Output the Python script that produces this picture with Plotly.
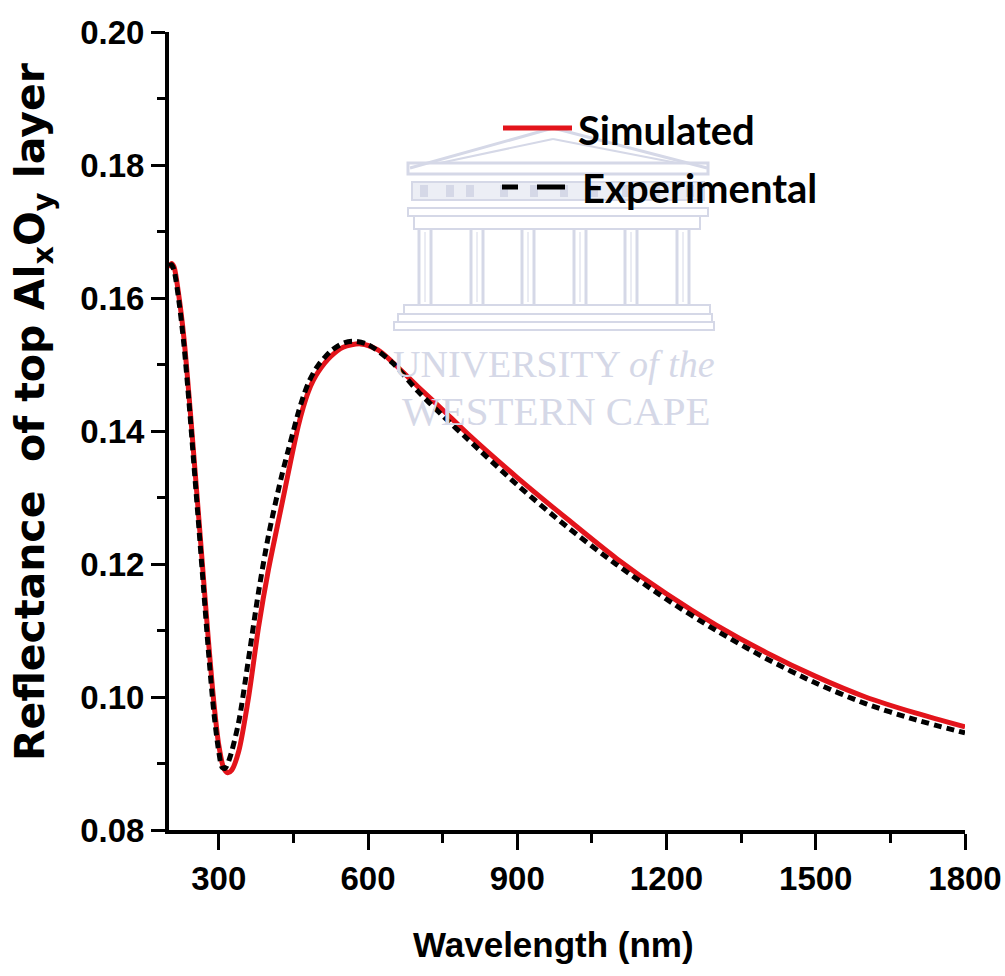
import plotly.graph_objects as go

# Simulated reflectance of the top AlxOy layer
wavelength_sim = [200, 205, 210, 220, 230, 240, 250, 260, 270, 280, 290, 300, 310, 318, 326,
                  340, 360, 380, 400, 425, 440, 450, 460, 470, 480, 490, 500, 525, 550, 585,
                  620, 650, 700, 750, 800, 900, 1000, 1100, 1200, 1300, 1400, 1500, 1600,
                  1700, 1800]
reflect_sim = [0.1645, 0.1652, 0.1647, 0.1602, 0.1540, 0.1455, 0.1362, 0.1268, 0.1172, 0.1078,
               0.0993, 0.0928, 0.0893, 0.0886, 0.0890, 0.0918, 0.1000, 0.1105, 0.1192, 0.1283,
               0.1338, 0.1374, 0.1408, 0.1436, 0.1459, 0.1476, 0.1489, 0.1512, 0.1526, 0.1531,
               0.1522, 0.1503, 0.1467, 0.1432, 0.1396, 0.1330, 0.1268, 0.1208, 0.1155, 0.1108,
               0.1067, 0.1031, 0.1000, 0.0976, 0.0955]

# Measured reflectance
wavelength_exp = [200, 205, 210, 220, 230, 240, 250, 260, 270, 280, 290, 300, 307, 313, 322,
                  340, 360, 380, 400, 425, 440, 450, 460, 470, 480, 490, 500, 525, 550, 570,
                  600, 650, 700, 750, 800, 900, 1000, 1100, 1200, 1300, 1400, 1500, 1600,
                  1700, 1800]
reflect_exp = [0.1648, 0.1650, 0.1642, 0.1595, 0.1530, 0.1445, 0.1350, 0.1255, 0.1158, 0.1062,
               0.0978, 0.0918, 0.0894, 0.0893, 0.0908, 0.0962, 0.1058, 0.1158, 0.1243, 0.1328,
               0.1372, 0.1400, 0.1428, 0.1452, 0.1472, 0.1487, 0.1499, 0.1520, 0.1532, 0.1535,
               0.1530, 0.1502, 0.1460, 0.1423, 0.1388, 0.1319, 0.1256, 0.1199, 0.1147, 0.1100,
               0.1058, 0.1021, 0.0990, 0.0966, 0.0946]

x_ticks = [300, 600, 900, 1200, 1500, 1800]
series_names = ["Simulated", "Experimental"]

W, H = 1005, 976
L, R, T, B = 169, 40, 32, 146
PW, PH = W - L - R, H - T - B

RED = "#e3141b"
WM = "#d5d8e7"


def px(x):
    return (x - L) / PW


def py(y):
    return (T + PH - y) / PH


fig = go.Figure()
fig.add_trace(go.Scatter(x=wavelength_sim, y=reflect_sim, mode="lines", name=series_names[0],
                         line=dict(color=RED, width=5, shape="spline", smoothing=0.8)))
fig.add_trace(go.Scatter(x=wavelength_exp, y=reflect_exp, mode="lines", name=series_names[1],
                         line=dict(color="black", width=5, dash="8px,5px", shape="spline",
                                   smoothing=0.8)))

shapes = []
annotations = []


def line(x0, y0, x1, y1, color=WM, width=3, layer="below"):
    shapes.append(dict(type="line", xref="paper", yref="paper", x0=px(x0), y0=py(y0),
                       x1=px(x1), y1=py(y1), line=dict(color=color, width=width), layer=layer))


def rect(x0, y0, x1, y1, fill=None, color=WM, width=3):
    shapes.append(dict(type="rect", xref="paper", yref="paper", x0=px(x0), y0=py(y0),
                       x1=px(x1), y1=py(y1), line=dict(color=color, width=width),
                       fillcolor=fill if fill else "rgba(0,0,0,0)", layer="below"))


def label(text, x, y, size, family, xanchor="center", yanchor="middle", angle=0,
          color="black", weight="bold"):
    annotations.append(dict(text=text, xref="paper", yref="paper", x=px(x), y=py(y),
                            xanchor=xanchor, yanchor=yanchor, textangle=angle,
                            showarrow=False,
                            font=dict(family=family, size=size, color=color, weight=weight)))


# faint building emblem behind the curves
line(410, 168, 553, 128)
line(553, 128, 707, 168)
line(440, 163, 553, 139, width=2)
line(553, 139, 677, 163, width=2)
rect(408, 163, 708, 174)
rect(412, 182, 704, 200, fill="#eceef5", width=2)
for sx in [420, 446, 466, 500, 530, 560, 590, 622, 652, 686]:
    rect(sx, 185, sx + 8, 197, fill=WM, width=0)
rect(408, 208, 708, 216, width=2)
rect(414, 216, 700, 229, width=2)
for cx in [425, 477, 528, 580, 631, 683]:
    line(cx - 6, 229, cx - 6, 305, width=3)
    line(cx + 6, 229, cx + 6, 305, width=3)
    line(cx, 232, cx, 302, width=1)
rect(404, 305, 710, 314, width=2)
rect(398, 314, 712, 322, width=2)
rect(394, 322, 714, 330, width=2)

label("UNIVERSITY <i>of the</i>", 554, 364, 38, "Liberation Serif", color=WM, weight="normal")
label("WESTERN CAPE", 556, 411, 41, "Liberation Serif", color=WM, weight="normal")

# legend drawn by hand
line(503, 128, 572, 128, color=RED, width=5, layer="above")
line(502, 187, 518, 187, color="black", width=5, layer="above")
line(537, 187, 565, 187, color="black", width=5, layer="above")
label(series_names[0], 576, 130, 40, "Lato", xanchor="left")
label(series_names[1], 580, 188, 40, "Lato", xanchor="left")

# axis titles
label("Reflectance&nbsp; of top Al<sub>x</sub>O<sub>y</sub> layer", 33, 412, 41,
      "DejaVu Sans", angle=-90)
label("Wavelength (nm)", 553, 945, 35, "Liberation Sans")

tickfont = dict(family="Liberation Sans", size=33, color="black", weight="bold")
fig.update_layout(
    width=W, height=H, margin=dict(l=L, r=R, t=T, b=B, autoexpand=False),
    paper_bgcolor="white", plot_bgcolor="white", showlegend=False,
    shapes=shapes, annotations=annotations,
    xaxis=dict(range=[200, 1800], tickvals=x_ticks, ticks="outside", ticklen=16, tickwidth=3,
               tickcolor="black", showline=True, linewidth=4, linecolor="black",
               showgrid=False, zeroline=False, tickfont=tickfont, automargin=False,
               minor=dict(tickvals=[450, 750, 1050, 1350, 1650], ticks="outside", ticklen=9,
                          tickwidth=3, tickcolor="black")),
    yaxis=dict(range=[0.08, 0.20], dtick=0.02, tick0=0.08, tickformat=".2f", ticks="outside",
               ticklen=14, tickwidth=3, tickcolor="black", showline=True, linewidth=4,
               linecolor="black", showgrid=False, zeroline=False, tickfont=tickfont,
               automargin=False,
               minor=dict(dtick=0.01, tick0=0.08, ticks="outside", ticklen=8, tickwidth=3,
                          tickcolor="black")),
)

fig.write_html("out.html")
